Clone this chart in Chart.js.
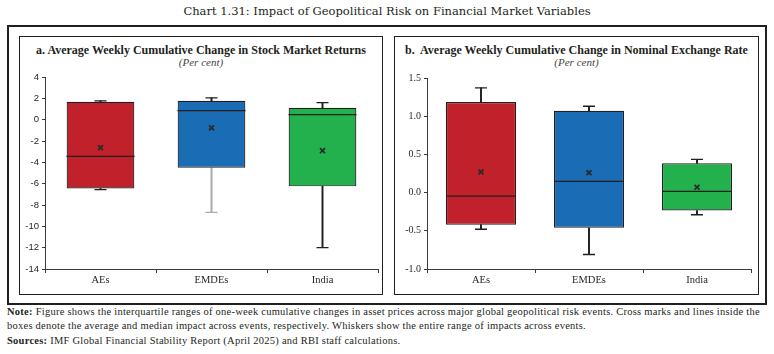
<!DOCTYPE html>
<html>
<head>
<meta charset="UTF-8">
<title>Chart 1.31</title>
<script src="https://cdn.jsdelivr.net/npm/chart.js"></script>
<style>
  body { margin: 0; background: #fff; font-family: "Liberation Serif", "DejaVu Serif", serif; color: #231f20; }
  .abs { position: absolute; }
  #mainTitle { left: 0; width: 774px; top: 4px; text-align: center; font-size: 11.5px; font-family: "DejaVu Serif", serif; }
  #outer { left: 7px; top: 25px; width: 760px; height: 280px; border: 2.5px solid #231f20; box-sizing: border-box; }
  .panel { top: 36px; height: 259px; border: 1.5px solid #231f20; box-sizing: border-box; }
  .ptitle { top: 43px; text-align: center; font-weight: bold; font-size: 12px; white-space: nowrap; }
  .psub { top: 56px; text-align: center; font-style: italic; font-size: 11px; color: #444; }
  .note { left: 7px; font-size: 10.5px; letter-spacing: 0.25px; white-space: nowrap; }
</style>
</head>
<body>
<div id="mainTitle" class="abs">Chart 1.31: Impact of Geopolitical Risk on Financial Market Variables</div>
<div id="outer" class="abs"></div>
<div class="abs panel" style="left:19px; width:364px;"></div>
<div class="abs panel" style="left:394px; width:365px;"></div>

<div class="abs ptitle" style="left:19px; width:364px;">a. Average Weekly Cumulative Change in Stock Market Returns</div>
<div class="abs psub" style="left:19px; width:364px;">(Per cent)</div>
<div class="abs ptitle" style="left:394px; width:365px;">b.&nbsp; Average Weekly Cumulative Change in Nominal Exchange Rate</div>
<div class="abs psub" style="left:394px; width:365px;">(Per cent)</div>

<canvas id="stockChart" class="abs" style="left:19px; top:36px;" width="363" height="258"></canvas>
<canvas id="fxChart" class="abs" style="left:394px; top:36px;" width="364" height="258"></canvas>

<div class="abs note" style="top:306px;"><b>Note:</b> Figure shows the interquartile ranges of one-week cumulative changes in asset prices across major global geopolitical risk events. Cross marks and lines inside the</div>
<div class="abs note" style="top:320px;">boxes denote the average and median impact across events, respectively. Whiskers show the entire range of impacts across events.</div>
<div class="abs note" style="top:335px;"><b>Sources:</b> IMF Global Financial Stability Report (April 2025) and RBI staff calculations.</div>

<script>
const categories = ['AEs', 'EMDEs', 'India'];
const boxColors = ['#c1212a', '#1a6db5', '#22b14c'];

// a. stock market returns
const stockMin = [-6.55, -8.7, -12.0];
const stockQ1 = [-6.45, -4.5, -6.25];
const stockMedian = [-3.45, 0.84, 0.47];
const stockQ3 = [1.68, 1.78, 1.12];
const stockMax = [1.76, 2.05, 1.6];
const stockMean = [-2.63, -0.76, -2.9];
const stockTicks = [-14, -12, -10, -8, -6, -4, -2, 0, 2, 4];

// b. nominal exchange rate
const fxMin = [-0.48, -0.81, -0.29];
const fxQ1 = [-0.42, -0.46, -0.235];
const fxMedian = [-0.045, 0.147, 0.016];
const fxQ3 = [1.185, 1.07, 0.383];
const fxMax = [1.37, 1.13, 0.436];
const fxMean = [0.27, 0.26, 0.07];
const fxTicks = [-1.0, -0.5, 0.0, 0.5, 1.0, 1.5];

// lower whisker of EMDEs stock returns is grey in the source
const lowWhiskerColors = [['#231f20', '#a7a9ac', '#231f20'], ['#231f20', '#231f20', '#231f20']];

function boxChart(canvasId, p) {
    const ctx = document.getElementById(canvasId).getContext('2d');
    const pair = (a, b) => a.map((v, i) => [v, b[i]]);
    const pointSet = (data, style, radius, color, width, order) => ({
        type: 'line', data: data, showLine: false, pointStyle: style,
        pointRadius: radius, pointHoverRadius: radius, borderColor: color,
        pointBorderColor: color, pointBorderWidth: width, backgroundColor: color, order: order
    });
    return new Chart(ctx, {
        type: 'bar',
        data: {
            labels: categories,
            datasets: [
                { data: pair(p.min, p.q1), backgroundColor: p.lowColors, barThickness: 1.3, grouped: false, order: 3 },
                { data: pair(p.q3, p.max), backgroundColor: '#231f20', barThickness: 1.3, grouped: false, order: 3 },
                { data: pair(p.q1, p.q3), backgroundColor: boxColors, borderColor: '#231f20', borderWidth: 1.2,
                  borderSkipped: false, barPercentage: p.barPct, categoryPercentage: 1, grouped: false, order: 2 },
                pointSet(p.min, 'line', 6, p.lowColors, 1.3, 1),
                pointSet(p.max, 'line', 6, '#231f20', 1.3, 1),
                pointSet(p.median, 'line', p.halfBox, '#231f20', 1.2, 0),
                pointSet(p.mean, 'crossRot', 3.5, '#2b2b2b', 1.8, 0)
            ]
        },
        options: {
            responsive: false,
            animation: false,
            layout: { autoPadding: false, padding: { top: p.padTop, right: p.padRight, left: 0, bottom: 0 } },
            plugins: { legend: { display: false }, tooltip: { enabled: false } },
            scales: {
                x: {
                    offset: true,
                    grid: { offset: true, drawOnChartArea: false, tickLength: 4, color: '#3a3a3a' },
                    border: { color: '#3a3a3a', width: 1 },
                    ticks: { padding: 1, color: '#231f20', font: { family: 'Liberation Serif', size: 10.5 } },
                    afterFit: s => { s.height = 25; }
                },
                y: {
                    min: p.ticks[0], max: p.ticks[p.ticks.length - 1],
                    afterBuildTicks: s => { s.ticks = p.ticks.map(v => ({ value: v })); },
                    grid: { drawOnChartArea: false, tickLength: 3, color: '#3a3a3a' },
                    border: { color: '#3a3a3a', width: 1 },
                    ticks: { padding: 3, color: '#231f20', font: p.tickFont, callback: p.fmt },
                    afterFit: s => { s.width = p.axisWidth; }
                }
            }
        }
    });
}

document.addEventListener('DOMContentLoaded', function () {
    boxChart('stockChart', {
        min: stockMin, q1: stockQ1, median: stockMedian, q3: stockQ3, max: stockMax, mean: stockMean,
        ticks: stockTicks, lowColors: lowWhiskerColors[0], barPct: 0.61, halfBox: 34,
        padTop: 41, padRight: 4, axisWidth: 26,
        tickFont: { family: 'Liberation Sans', size: 9.5 }, fmt: v => String(v)
    });
    boxChart('fxChart', {
        min: fxMin, q1: fxQ1, median: fxMedian, q3: fxQ3, max: fxMax, mean: fxMean,
        ticks: fxTicks, lowColors: lowWhiskerColors[1], barPct: 0.65, halfBox: 35,
        padTop: 42, padRight: 7, axisWidth: 33,
        tickFont: { family: 'Liberation Serif', size: 10 }, fmt: v => Number(v).toFixed(1)
    });
});
</script>
</body>
</html>
